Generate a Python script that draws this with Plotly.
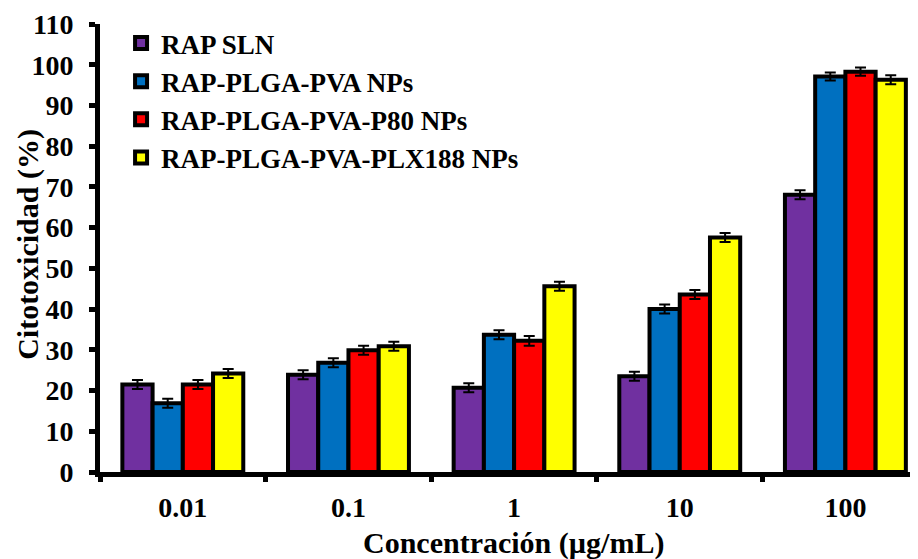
import plotly.graph_objects as go

categories = ["0.01", "0.1", "1", "10", "100"]
series_names = ["RAP SLN", "RAP-PLGA-PVA NPs", "RAP-PLGA-PVA-P80 NPs", "RAP-PLGA-PVA-PLX188 NPs"]
rap_sln = [21.5, 23.9, 20.7, 23.5, 68.1]
plga_pva = [16.9, 26.8, 33.7, 40.0, 97.1]
plga_pva_p80 = [21.5, 29.9, 32.2, 43.6, 98.3]
plga_pva_plx188 = [24.2, 30.9, 45.6, 57.6, 96.3]
err_sln = [1.1, 1.1, 1.1, 1.1, 1.1]
err_pva = [1.1, 1.1, 1.1, 1.1, 1.0]
err_p80 = [1.1, 1.1, 1.2, 1.1, 1.0]
err_plx = [1.1, 1.1, 1.1, 1.1, 1.1]

colors = ["#7030A0", "#0070C0", "#FF0000", "#FFFF00"]
values = [rap_sln, plga_pva, plga_pva_p80, plga_pva_plx188]
errors = [err_sln, err_pva, err_p80, err_plx]

FONT = "Liberation Serif"

fig = go.Figure()
for name, vals, errs, col in zip(series_names, values, errors, colors):
    fig.add_trace(go.Bar(
        x=categories, y=vals, name=name,
        marker=dict(color=col, line=dict(color="black", width=4)),
        error_y=dict(type="data", array=errs, visible=True, color="black", thickness=2, width=5.5),
    ))

fig.update_layout(
    width=918, height=559,
    margin=dict(l=100, r=8, t=24, b=87),
    plot_bgcolor="white", paper_bgcolor="white",
    barmode="group", bargap=0.27, bargroupgap=0,
    font=dict(family=FONT, color="black", size=28),
    legend=dict(x=0.026, y=1.011, xanchor="left", yanchor="top",
                font=dict(family=FONT, size=27, color="black", weight="bold"),
                bgcolor="rgba(0,0,0,0)", tracegroupgap=0, itemwidth=30),
    showlegend=True,
    annotations=[
        dict(
            text="Citotoxicidad (%)", textangle=-90,
            xref="paper", yref="paper", x=-72 / 810, y=0.507,
            xanchor="center", yanchor="middle", showarrow=False,
            font=dict(family=FONT, size=30, color="black", weight="bold"),
        ),
        dict(
            text="Concentración (µg/mL)",
            xref="paper", yref="paper", x=413 / 810, y=-71 / 448,
            xanchor="center", yanchor="middle", showarrow=False,
            font=dict(family=FONT, size=30, color="black", weight="bold"),
        ),
    ],
)
fig.update_xaxes(
    type="category", range=[-0.5, 4.39],
    showline=True, linecolor="black", linewidth=5,
    ticks="outside", tickson="boundaries", ticklen=5, tickwidth=5, tickcolor="black",
    ticklabelstandoff=6,
    tickfont=dict(family=FONT, size=28, color="black", weight="bold"),
    showgrid=False, zeroline=False,
)
fig.update_yaxes(
    range=[0, 110], dtick=10, tick0=0,
    showline=True, linecolor="black", linewidth=5,
    ticks="outside", ticklen=6, tickwidth=5, tickcolor="black",
    ticklabelstandoff=10,
    tickfont=dict(family=FONT, size=28, color="black", weight="bold"),
    showgrid=False, zeroline=False,
)

fig.write_html("out.html")
